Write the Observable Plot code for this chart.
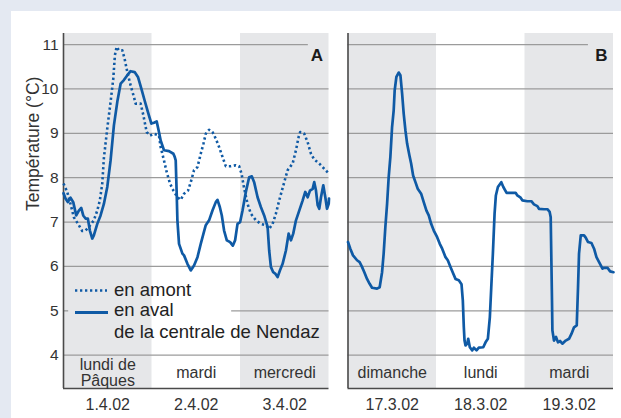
<!DOCTYPE html>
<html>
<head>
<meta charset="utf-8">
<script src="https://cdn.jsdelivr.net/npm/d3@7"></script>
<script src="https://cdn.jsdelivr.net/npm/@observablehq/plot@0.6"></script>
<style>
  html, body { margin: 0; padding: 0; background: #e4e9f2; }
  #wrap { position: relative; width: 621px; height: 418px; overflow: hidden; font-family: "Liberation Sans", Arial, sans-serif; }
  #paper { position: absolute; left: 11px; top: 11px; width: 610px; height: 407px; background: #ffffff; }
  #chart { position: absolute; left: 0; top: 0; }
  #legend { position: absolute; left: 0; top: 0; width: 621px; height: 418px; pointer-events: none; }
  .lg { position: absolute; font-size: 18.5px; color: #222; line-height: 22px; white-space: nowrap; }
</style>
</head>
<body>
<div id="wrap">
  <div id="paper"></div>
  <div id="chart"></div>
  <div id="legend">
    <svg width="621" height="418" style="position:absolute;left:0;top:0">
      <line x1="75" x2="107" y1="290.5" y2="290.5" stroke="#0f5aa5" stroke-width="2.6" stroke-dasharray="2.3,2.7"></line>
      <line x1="75" x2="108" y1="312.5" y2="312.5" stroke="#0f5aa5" stroke-width="2.8"></line>
    </svg>
    <div class="lg" style="left:114px; top:279px">en amont</div>
    <div class="lg" style="left:114px; top:299px">en aval</div>
    <div class="lg" style="left:114px; top:321px">de la centrale de Nendaz</div>
  </div>
</div>
<script>
// ---- Data (hours since start of first shown day, temperature °C) ----
const panels = ["A", "B"];
const yTicks = [4, 5, 6, 7, 8, 9, 10, 11];
const yDomain = [3.25, 11.25];
const hoursDomain = [0, 72];
const shadedDays = [0, 2];
const daysA = ["lundi de\nPâques", "mardi", "mercredi"];
const datesA = ["1.4.02", "2.4.02", "3.4.02"];
const daysB = ["dimanche", "lundi", "mardi"];
const datesB = ["17.3.02", "18.3.02", "19.3.02"];
const seriesNames = ["en amont", "en aval"];

// Panel A – en aval (solid)
const avalA = [
  [0,7.65],[0.54,7.53],[1.17,7.45],[1.9,7.55],[2.64,7.45],[3.45,7.15],[4.16,7.26],[4.81,7.32],
  [5.35,7.15],[5.98,7.08],[6.6,7.08],[7.15,6.81],[7.8,6.63],[8.23,6.70],[9.16,6.96],[10.05,7.15],
  [10.95,7.41],[11.87,7.79],[12.77,8.39],[13.67,9.18],[14.59,9.71],[15.49,10.12],[16.38,10.20],
  [17.31,10.31],[18.2,10.40],[19.29,10.38],[20.19,10.27],[21.11,10.01],[22.0,9.74],[22.9,9.48],
  [23.83,9.22],[24.53,9.24],[25.27,9.27],[25.89,9.03],[26.35,8.84],[27.25,8.62],[28.61,8.60],
  [29.8,8.54],[30.16,8.47],[30.43,8.39],[30.7,7.64],[30.89,7.04],[31.33,6.51],[32.25,6.29],
  [32.69,6.25],[33.61,6.06],[34.51,5.91],[35.4,6.02],[36.33,6.21],[37.22,6.51],[37.96,6.74],
  [38.58,6.93],[39.48,7.04],[40.4,7.26],[41.3,7.45],[41.76,7.50],[42.39,7.34],[42.93,7.15],
  [43.55,6.81],[44.29,6.59],[45.18,6.55],[45.92,6.47],[46.54,6.59],[47.19,6.96],[47.9,7.00],
  [48.55,7.26],[49.45,7.68],[50.35,8.01],[51.08,8.03],[51.7,7.90],[52.63,7.56],[53.52,7.34],
  [54.42,7.15],[55.35,6.89],[55.78,6.36],[56.24,5.99],[56.87,5.87],[57.41,5.84],[58.06,5.76],
  [58.69,5.91],[59.42,6.06],[60.32,6.36],[61.05,6.74],[61.68,6.59],[62.3,6.74],[63.04,7.04],
  [63.93,7.26],[64.86,7.49],[65.56,7.68],[66.21,7.56],[66.84,7.71],[67.57,7.75],[68.0,7.90],
  [68.47,7.71],[68.93,7.38],[69.36,7.30],[69.83,7.56],[70.45,7.83],[71.0,7.56],[71.46,7.30],
  [71.92,7.41],[72,7.53]
];
// Panel A – en amont (dotted)
const amontA = [
  [0,7.87],[1.0,7.68],[1.9,7.41],[2.8,7.11],[4.16,6.93],[5.08,6.80],[5.98,6.81],[6.87,6.89],
  [8.23,7.04],[9.16,7.26],[9.86,7.49],[10.51,7.87],[10.95,8.44],[11.87,9.11],[12.77,9.71],
  [13.5,10.23],[13.94,10.76],[14.4,10.95],[15.03,10.87],[15.95,10.87],[16.57,10.68],[17.31,10.38],
  [18.2,10.08],[19.1,9.82],[19.56,9.67],[20.92,9.67],[21.65,9.41],[22.55,9.03],[23.45,8.95],
  [24.53,8.99],[25.89,8.95],[26.35,8.69],[27.25,8.39],[27.98,8.13],[28.88,7.87],[29.8,7.71],
  [30.89,7.56],[31.79,7.50],[32.69,7.64],[33.77,7.71],[34.51,7.90],[35.4,8.17],[36.33,8.24],
  [37.22,8.54],[37.96,8.77],[38.58,8.99],[39.48,9.08],[40.4,9.03],[41.3,8.88],[42.2,8.69],
  [43.12,8.47],[44.01,8.26],[45.37,8.26],[46.73,8.28],[47.63,8.26],[48.28,8.09],[48.99,7.76],
  [49.91,7.41],[50.81,7.19],[52.17,7.04],[53.52,6.96],[54.88,6.93],[55.78,6.85],[56.7,6.96],
  [57.6,7.19],[58.5,7.49],[59.86,7.90],[60.78,8.17],[62.14,8.32],[63.04,8.62],[63.77,8.92],
  [64.2,9.03],[65.29,8.99],[66.21,8.80],[67.11,8.54],[68.0,8.41],[69.36,8.32],[70.72,8.20],
  [72,8.09]
];
// Panel B – en aval (solid)
const avalB = [
  [0,6.55],[0.62,6.40],[1.36,6.25],[2.45,6.14],[3.15,6.10],[3.8,5.99],[4.43,5.87],[5.16,5.72],
  [5.87,5.61],[6.52,5.52],[7.88,5.50],[8.59,5.53],[9.24,5.87],[9.67,6.29],[10.13,6.89],[10.6,7.41],
  [11.03,8.01],[11.49,8.47],[11.95,9.14],[12.39,9.52],[12.66,9.97],[13.12,10.27],[13.75,10.37],
  [14.21,10.31],[14.67,9.90],[15.11,9.44],[15.57,9.07],[16.03,8.77],[16.66,8.50],[17.12,8.32],
  [17.66,8.05],[18.29,7.90],[18.91,7.75],[19.83,7.64],[20.54,7.45],[21.27,7.26],[21.9,7.15],
  [22.55,6.96],[23.26,6.81],[24.18,6.66],[24.89,6.51],[25.54,6.40],[26.44,6.21],[27.06,6.14],
  [27.79,5.99],[28.53,5.84],[29.15,5.72],[30.05,5.69],[30.78,5.60],[31.14,5.23],[31.41,4.63],
  [31.6,4.33],[31.87,4.22],[32.33,4.26],[32.6,4.37],[33.04,4.18],[33.69,4.11],[34.13,4.17],
  [34.86,4.11],[35.48,4.17],[36.68,4.18],[37.3,4.29],[37.93,4.37],[38.47,4.86],[38.85,5.53],
  [39.29,6.29],[39.75,7.19],[40.1,7.60],[40.65,7.79],[41.57,7.90],[42.12,7.79],[43.01,7.66],
  [44.56,7.66],[45.46,7.66],[45.92,7.60],[46.81,7.55],[47.28,7.49],[48.64,7.47],[49.72,7.47],
  [50.43,7.40],[51.35,7.36],[51.79,7.30],[53.15,7.29],[54.07,7.29],[54.69,7.23],[54.97,7.11],
  [55.15,6.14],[55.32,5.23],[55.43,4.56],[55.86,4.33],[56.41,4.41],[56.95,4.29],[57.49,4.32],
  [58.14,4.26],[59.04,4.33],[59.94,4.37],[60.59,4.48],[61.3,4.63],[62.03,4.67],[62.38,5.53],
  [62.65,6.29],[63.12,6.70],[64.01,6.70],[64.47,6.65],[65.1,6.55],[66.02,6.53],[66.73,6.40],
  [67.38,6.21],[68.09,6.10],[69.01,5.95],[69.45,5.97],[70.37,5.97],[71.08,5.89],[72,5.87]
];

// ---- Build tables for the library ----
const toRows = (arr, panel, series) => arr.map(([h, t]) => ({panel, series, h, t}));
const amontRows = toRows(amontA, "A", seriesNames[0]);
const avalRows = [...toRows(avalA, "A", seriesNames[1]), ...toRows(avalB, "B", seriesNames[1])];

const bandRows = panels.flatMap(p => shadedDays.map(d => ({panel: p, x1: d * 24, x2: (d + 1) * 24})));

// gridline segments (top gridline leaves room for the panel letter; legend interrupts the 5 °C line in A)
const gridRows = [];
for (const p of panels) {
  for (const v of yTicks) {
    if (v === 11) gridRows.push({panel: p, y: v, x1: 0, x2: p === "A" ? 66.4 : 65.2});
    else if (v === 5 && p === "A") {
      gridRows.push({panel: p, y: v, x1: 0, x2: 1.4});
      gridRows.push({panel: p, y: v, x1: 45.6, x2: 72});
    } else gridRows.push({panel: p, y: v, x1: 0, x2: 72});
  }
}

const labelRows = [
  ...daysA.map((d, i) => ({panel: "A", day: d, date: datesA[i], h: i * 24 + 12})),
  ...daysB.map((d, i) => ({panel: "B", day: d, date: datesB[i], h: i * 24 + 12}))
];
const singleDayRows = labelRows.filter(d => !d.day.includes("\n"));
const doubleDayRows = labelRows.filter(d => d.day.includes("\n"));

const lineColor = "#0f5aa5";
const axisColor = "#4a4a4a";

const chart = Plot.plot({
  width: 621,
  height: 418,
  marginLeft: 63,
  marginRight: 8,
  marginTop: 33,
  marginBottom: 30,
  style: {background: "transparent", fontFamily: "Liberation Sans, Arial, sans-serif", fontSize: "15.5px", color: "#333"},
  fx: {domain: panels, paddingInner: 38 / 569, paddingOuter: 0, axis: null, label: null, round: false},
  x: {domain: hoursDomain, axis: null},
  y: {domain: yDomain, ticks: yTicks, tickSize: 0, tickPadding: 5, label: null, tickFormat: d => String(d)},
  marks: [
    Plot.rect(bandRows, {fx: "panel", x1: "x1", x2: "x2", fill: "#e6e7e9"}),
    Plot.ruleY(gridRows, {fx: "panel", y: "y", x1: "x1", x2: "x2", stroke: "#9b9b9b", strokeWidth: 1.3}),
    Plot.ruleX(panels, {fx: d => d, x: () => hoursDomain[0], stroke: axisColor, strokeWidth: 1.6}),
    Plot.ruleY(panels, {fx: d => d, y: () => yDomain[0], stroke: axisColor, strokeWidth: 1.6}),
    Plot.line(amontRows, {fx: "panel", x: "h", y: "t", stroke: lineColor, strokeWidth: 2.6, strokeDasharray: "2.3,2.7", strokeLinecap: "butt"}),
    Plot.line(avalRows, {fx: "panel", x: "h", y: "t", stroke: lineColor, strokeWidth: 2.7, strokeLinejoin: "round"}),
    Plot.text(singleDayRows, {fx: "panel", x: "h", text: "day", frameAnchor: "bottom", dy: -11, fontSize: 16, fill: "#333"}),
    Plot.text(doubleDayRows, {fx: "panel", x: "h", text: "day", frameAnchor: "bottom", dy: -3, fontSize: 16, fill: "#333", lineHeight: 1.0}),
    Plot.text(labelRows, {fx: "panel", x: "h", text: "date", frameAnchor: "bottom", dy: 21, fontSize: 16, fill: "#333"}),
    Plot.text(panels, {fx: d => d, text: d => d, frameAnchor: "top-right", textAnchor: "end", dx: -6, dy: 15, fontSize: 17, fontWeight: "bold", fill: "#1a1a1a"}),
    Plot.text(["Température (°C)"], {fx: () => "A", text: d => d, frameAnchor: "left", rotate: -90, dx: -30, fontSize: 17.5, fill: "#333"})
  ]
});
document.getElementById("chart").appendChild(chart);
</script>
</body>
</html>
